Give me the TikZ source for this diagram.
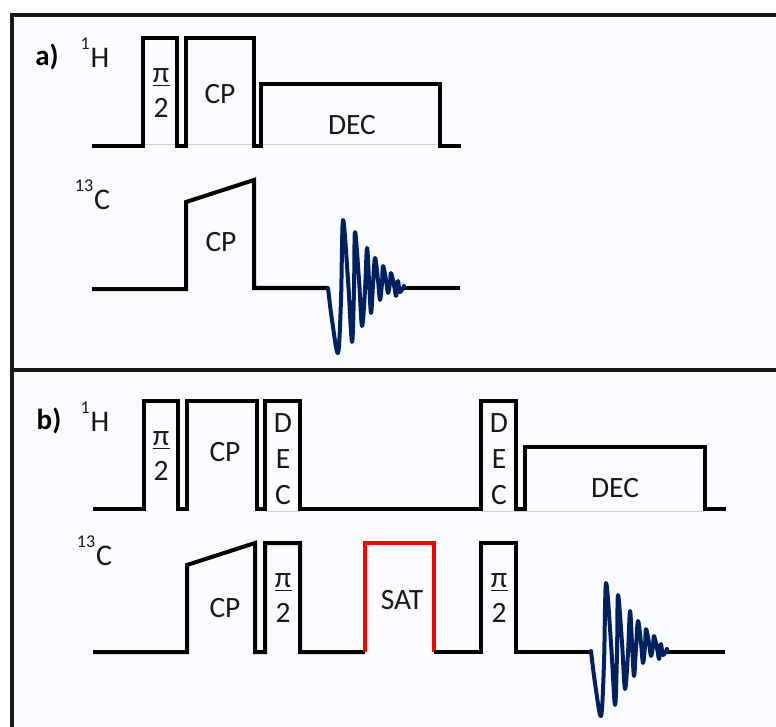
\documentclass[tikz,border=0pt]{standalone}
\usepackage{fontspec}
\setmainfont{Carlito}
\definecolor{panelbg}{RGB}{250,251,254}
\definecolor{fidblue}{RGB}{0,32,96}
\tikzset{
  pulse/.style={line width=4pt, black, miter limit=4},
  satpulse/.style={line width=4pt, red},
  fidline/.style={line width=4pt, fidblue, line join=round, line cap=round},
  trace/.style={line width=0.9pt, gray!35},
  frameline/.style={line width=3.6pt, black!90},
  lab/.style={font=\fontsize{29.5}{29}\selectfont, inner sep=0pt, text=black!90},
  panel/.style={font=\fontsize{29}{29}\selectfont\bfseries, inner sep=0pt},
  nuc/.style={font=\fontsize{30}{30}\selectfont, inner sep=0pt, text=black!90},
  stack/.style={lab, align=center},
}
\newcommand{\isotope}[1]{\raisebox{0.6em}{\fontsize{18}{18}\selectfont #1}\kern1pt}
\newcommand{\halfpi}{π\\[-25pt]\rule{17pt}{1.8pt}\\[2pt]2}
\newcommand{\fidpath}{plot[smooth, tension=0.55] coordinates {(328,288) (332,320) (338,353) (341,300) (343,220) (348,280) (352,342) (354,290) (355,232) (359,280) (362,326) (365,290) (367,248) (369,280) (371,313) (373,285) (375,258) (378,280) (380,300) (382,283) (383,266) (386,280) (388,293) (390,283) (391,273) (394,285) (396,296) (397,288) (398,281) (400,292) (404,286)}}

\begin{document}
\begin{tikzpicture}[x=1pt,y=-1pt]
  \useasboundingbox (0,0) rectangle (776,727);
  \fill[panelbg] (12,15) rectangle (776,727);
  \draw[frameline] (776,15) -- (12,15) -- (12,727);
  \draw[frameline] (12,370) -- (776,370);

  % panel a
  \node[panel] (labela) at (47,57) {a)};
  \node[nuc] (hydra) at (95,53) {\isotope{1}H};
  \node[nuc] (carba) at (92.5,195) {\isotope{13}C};
  \draw[trace] (143,144) -- (440,144);
  \draw[pulse] (92,146) -- (143,146) -- (143,38) -- (177,38) -- (177,146) -- (186,146)
    -- (186,38) -- (254,38) -- (254,146) -- (261,146) -- (261,84) -- (440,84) -- (440,146) -- (461,146);
  \draw[pulse] (92,289) -- (186,289) -- (186,202) -- (254,180) -- (254,288) -- (328,288);
  \draw[pulse] (404,288) -- (460,288);
  \draw[fidline] \fidpath;
  \node[stack] (pia) at (161,93) {\halfpi};
  \node[lab] (cpha) at (220,94) {CP};
  \node[lab] (deca) at (352,125) {DEC};
  \node[lab] (cpca) at (221,242) {CP};

  % panel b
  \node[panel] (labelb) at (49,421) {b)};
  \node[nuc] (hydrb) at (95,417) {\isotope{1}H};
  \node[nuc] (carbb) at (94.5,551) {\isotope{13}C};
  \draw[trace] (265,511) -- (300,511);
  \draw[trace] (481,511) -- (705,511);
  \draw[pulse] (93,509) -- (144,509) -- (144,401) -- (178,401) -- (178,509) -- (187,509)
    -- (187,401) -- (257,401) -- (257,509) -- (265,509) -- (265,401) -- (300,401) -- (300,509)
    -- (481,509) -- (481,401) -- (516,401) -- (516,509) -- (525,509) -- (525,447) -- (705,447)
    -- (705,509) -- (726,509);
  \draw[pulse] (93,652) -- (187,652) -- (187,565) -- (255,543) -- (255,652) -- (265,652)
    -- (265,543) -- (300,543) -- (300,652) -- (365,652);
  \draw[satpulse] (365,652) -- (365,543) -- (434,543) -- (434,652);
  \draw[pulse] (434,652) -- (481,652) -- (481,543) -- (516,543) -- (516,652) -- (590,652);
  \draw[pulse] (666,652) -- (725,652);
  \begin{scope}[shift={(263,363)}]
    \draw[fidline] \fidpath;
  \end{scope}
  \node[stack] (pib) at (161,456) {\halfpi};
  \node[lab] (cphb) at (225,452) {CP};
  \node[stack] (dech) at (283,459) {D\\[7pt]E\\[7pt]C};
  \node[stack] (decc) at (499,459) {D\\[7pt]E\\[7pt]C};
  \node[lab] (decb) at (615,488) {DEC};
  \node[lab] (cpcb) at (225,608) {CP};
  \node[stack] (pic) at (283,598) {\halfpi};
  \node[lab] (sat) at (402,600) {SAT};
  \node[stack] (pid) at (499,598) {\halfpi};
\end{tikzpicture}
\end{document}
